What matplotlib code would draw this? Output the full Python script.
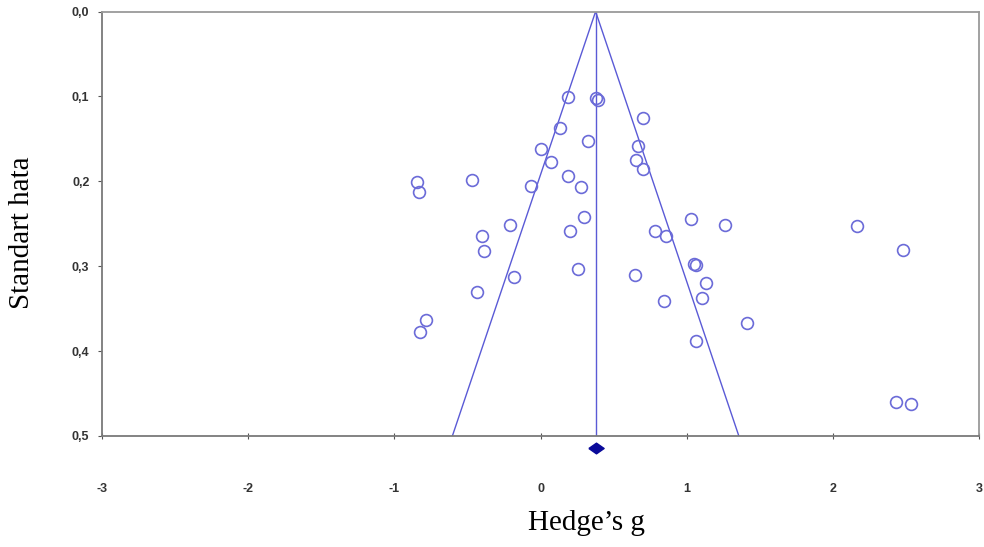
import matplotlib
matplotlib.use("Agg")
import matplotlib.pyplot as plt
import numpy as np

# Effect sizes (Hedge's g) and standard errors
hedges_g = [0.186, 0.382, 0.391, 0.698, 0.132, 0.323, 0.000, 0.665, 0.651, 0.070,
            0.698, -0.845, -0.831, -0.469, -0.068, 0.186, 0.275, 0.296, -0.210, 0.200,
            1.033, 1.264, 0.781, 0.856, 1.047, 1.061, 0.254, 0.644, 1.129, 0.842,
            1.102, 1.414, 1.067, -0.401, -0.389, -0.182, -0.437, -0.785, -0.824, 2.168,
            2.481, 2.431, 2.534]
std_err = [0.101, 0.102, 0.104, 0.125, 0.137, 0.153, 0.162, 0.158, 0.175, 0.177,
           0.186, 0.201, 0.213, 0.198, 0.205, 0.194, 0.207, 0.242, 0.252, 0.259,
           0.244, 0.251, 0.258, 0.265, 0.297, 0.298, 0.303, 0.310, 0.320, 0.341,
           0.338, 0.367, 0.388, 0.265, 0.282, 0.313, 0.330, 0.363, 0.377, 0.253,
           0.281, 0.460, 0.462]
pooled_g = 0.377
max_se = 0.5
x_ticks = [-3, -2, -1, 0, 1, 2, 3]
x_tick_labels = ["-3", "-2", "-1", "0", "1", "2", "3"]
y_ticks = [0.0, 0.1, 0.2, 0.3, 0.4, 0.5]
y_tick_labels = ["0,0", "0,1", "0,2", "0,3", "0,4", "0,5"]

W, H = 984, 547
fig = plt.figure(figsize=(W/100, H/100), dpi=100)
left, right, top, bottom = 102, 979, 11.5, 436
ax = fig.add_axes([left/W, 1-bottom/H, (right-left)/W, (bottom-top)/H])

line_col = "#5a5ad6"
pt_col = "#6b6bd8"

# funnel lines
ax.plot([pooled_g - 1.96*max_se, pooled_g, pooled_g + 1.96*max_se], [max_se, 0, max_se],
        color=line_col, lw=1.0)
ax.plot([pooled_g, pooled_g], [0, max_se], color=line_col, lw=1.0)

# studies
ax.plot(hedges_g, std_err, linestyle="none", marker="o", markersize=8.5,
        markerfacecolor="none", markeredgecolor=pt_col, markeredgewidth=1.2)

# pooled estimate diamond below axis
diamond = [(-1, 0), (0, 0.7), (1, 0), (0, -0.7), (-1, 0)]
ax.plot([pooled_g], [max_se + 0.0145], marker=diamond, markersize=11,
        color="#0a0a9a", linestyle="none", clip_on=False)

ax.set_xlim(-3, 3)
ax.set_ylim(max_se, 0)
ax.set_xticks(x_ticks)
ax.set_xticklabels(x_tick_labels, fontweight="bold", fontsize=9,
                   family="Liberation Sans", color="#333333")
ax.set_yticks(y_ticks)
ax.set_yticklabels(y_tick_labels, fontweight="bold", fontsize=9,
                   family="Liberation Sans", color="#333333")
ax.tick_params(axis="x", direction="inout", length=4, pad=32, color="#555555")
ax.tick_params(axis="y", direction="out", length=3, pad=6, color="#555555")

for side in ["left", "bottom"]:
    ax.spines[side].set_color("#7a7a7a")
    ax.spines[side].set_linewidth(1.3)
for side in ["top", "right"]:
    ax.spines[side].set_color("#9a9a9a")
    ax.spines[side].set_linewidth(1.3)

fig.text(586/W, 1-523/H, "Hedge\u2019s g", family="Liberation Serif", fontsize=21,
         ha="center", va="center")
fig.text(22/W, 1-233/H, "Standart hata", family="Liberation Serif", fontsize=21,
         ha="center", va="center", rotation=90)

fig.savefig("out.png", dpi=100)
